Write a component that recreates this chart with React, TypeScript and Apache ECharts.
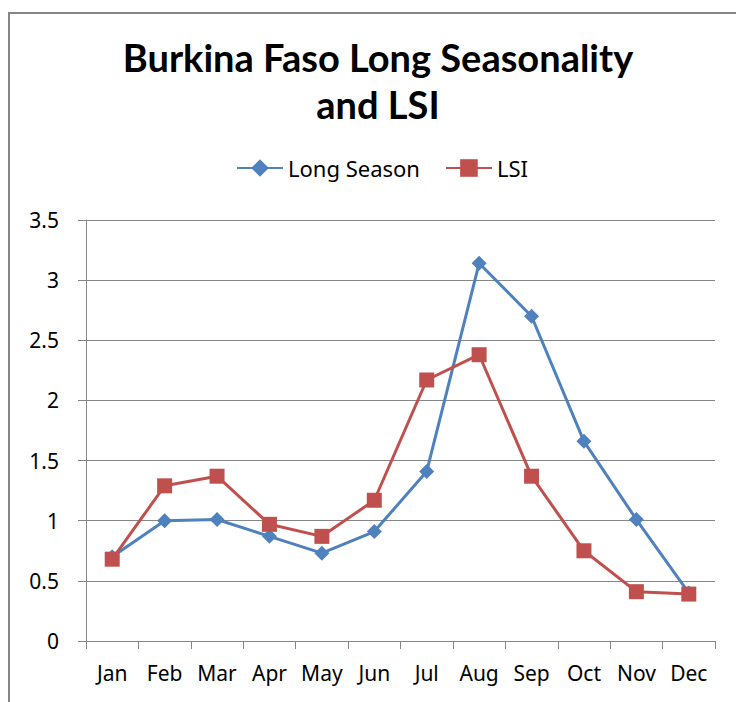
import React, { useEffect, useRef } from "react";
import * as echarts from "echarts";

const months = ["Jan", "Feb", "Mar", "Apr", "May", "Jun", "Jul", "Aug", "Sep", "Oct", "Nov", "Dec"];
const longSeason = [0.7, 1.0, 1.01, 0.87, 0.73, 0.91, 1.41, 3.14, 2.7, 1.66, 1.01, 0.4];
const lsi = [0.68, 1.29, 1.37, 0.97, 0.87, 1.17, 2.17, 2.38, 1.37, 0.75, 0.41, 0.39];
const titleText = "Burkina Faso Long Seasonality\nand LSI";
const TITLE_FONT = "Lato, 'Noto Sans', sans-serif";
const FONT = "'Noto Sans', sans-serif";

export default function App() {
  const ref = useRef<HTMLDivElement>(null);
  useEffect(() => {
    const chart = echarts.init(ref.current!, null, { renderer: "svg" });
    chart.setOption({
      animation: false,
      backgroundColor: "#fff",
      title: {
        text: titleText,
        left: 373,
        top: 28,
        textAlign: "center",
        textStyle: { fontFamily: TITLE_FONT, fontWeight: "bold", fontSize: 38, lineHeight: 47, color: "#000" },
      },
      legend: {
        top: 152,
        left: 231,
        itemWidth: 46,
        itemHeight: 22,
        itemGap: 25,
        textStyle: { fontFamily: FONT, fontSize: 22, color: "#000" },
        data: ["Long Season", "LSI"],
      },
      graphic: [
        {
          type: "rect",
          shape: { x: 9, y: 13, width: 900, height: 900 },
          style: { fill: "none", stroke: "#868686", lineWidth: 2 },
          silent: true,
        },
      ],
      grid: { left: 86, right: 21, top: 220, bottom: 61 },
      xAxis: {
        type: "category",
        data: months,
        boundaryGap: true,
        axisLine: { lineStyle: { color: "#868686", width: 1 } },
        axisTick: { show: true, length: 8, inside: false, interval: 0, lineStyle: { color: "#868686" } },
        axisLabel: { fontFamily: FONT, fontSize: 21, color: "#000", margin: 21, interval: 0 },
      },
      yAxis: {
        type: "value",
        min: 0,
        max: 3.5,
        interval: 0.5,
        axisLine: { show: true, lineStyle: { color: "#868686", width: 1 } },
        axisTick: { show: true, length: 8, lineStyle: { color: "#868686" } },
        splitLine: { show: true, lineStyle: { color: "#868686", width: 1 } },
        axisLabel: { fontFamily: FONT, fontSize: 21, color: "#000", margin: 27 },
      },
      series: [
        {
          name: "Long Season",
          type: "line",
          data: longSeason,
          symbol: "diamond",
          symbolSize: 15,
          lineStyle: { color: "#4F81BD", width: 3 },
          itemStyle: { color: "#4F81BD" },
        },
        {
          name: "LSI",
          type: "line",
          data: lsi,
          symbol: "rect",
          symbolSize: 15,
          lineStyle: { color: "#C0504D", width: 3 },
          itemStyle: { color: "#C0504D" },
        },
      ],
    });
    return () => chart.dispose();
  }, []);
  return <div ref={ref} style={{ position: "absolute", left: 0, top: 0, width: 736, height: 702 }} />;
}
